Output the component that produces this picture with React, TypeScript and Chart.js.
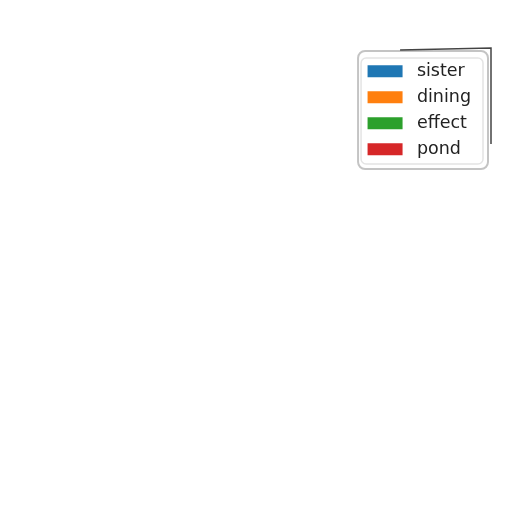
import React, { useEffect, useRef } from 'react';
import Chart from 'chart.js/auto';

// series shown in the legend (the plot itself has no visible marks)
const seriesNames: string[] = ['sister', 'dining', 'effect', 'pond'];
const seriesColors: string[] = ['#1f77b4', '#ff7f0e', '#2ca02c', '#d62728'];
const categories: string[] = [];
const seriesValues: number[][] = [[], [], [], []];

// sketchy frame around the legend, drawn from the legend's own item boxes
const legendFrame = {
  id: 'legendFrame',
  afterDraw(chart: Chart) {
    const lg: any = chart.legend;
    if (!lg || !lg.legendHitBoxes || !lg.legendHitBoxes.length) return;
    const ctx = chart.ctx;
    const last = lg.legendHitBoxes[lg.legendHitBoxes.length - 1];
    const l = lg.left - 1;
    const t = lg.top - 5;
    const r = lg.right + 9;
    const b = last.top + last.height + 11;
    ctx.save();
    ctx.strokeStyle = '#c4c4c4';
    ctx.lineWidth = 2;
    ctx.beginPath();
    ctx.roundRect(l, t + 2, r - l - 2, b - t - 2, 7);
    ctx.stroke();
    ctx.strokeStyle = '#e4e4e4';
    ctx.lineWidth = 1.5;
    ctx.beginPath();
    ctx.roundRect(l + 3, t + 9, r - l - 10, b - t - 14, 5);
    ctx.stroke();
    ctx.strokeStyle = '#444';
    ctx.lineWidth = 1.5;
    ctx.beginPath();
    ctx.moveTo(l + 42, t + 1);
    ctx.lineTo(r + 1, t - 1);
    ctx.lineTo(r + 1, b - 25);
    ctx.stroke();
    ctx.restore();
  },
};

const App: React.FC = () => {
  const chartRef = useRef<HTMLCanvasElement>(null);
  const chartInstance = useRef<Chart | null>(null);

  useEffect(() => {
    if (!chartRef.current) return;
    if (chartInstance.current) chartInstance.current.destroy();
    const ctx = chartRef.current.getContext('2d');
    if (!ctx) return;

    chartInstance.current = new Chart(ctx, {
      type: 'bar',
      data: {
        labels: categories,
        datasets: seriesNames.map((name, i) => ({
          label: name,
          data: seriesValues[i],
          backgroundColor: seriesColors[i],
          borderWidth: 0,
        })),
      },
      options: {
        responsive: true,
        maintainAspectRatio: false,
        animation: false,
        layout: { padding: { top: 54, right: 31 } },
        plugins: {
          title: { display: false },
          tooltip: { enabled: false },
          legend: {
            display: true,
            position: 'right',
            align: 'start',
            labels: {
              boxWidth: 35,
              boxHeight: 12,
              padding: 8.5,
              color: '#222',
              font: { family: "'DejaVu Sans', sans-serif", size: 17.5 },
              generateLabels: (chart: Chart) =>
                Chart.defaults.plugins.legend.labels
                  .generateLabels(chart)
                  .map((item: any) => ({ ...item, text: ' ' + item.text, lineWidth: 0 })),
            },
          },
        },
        scales: {
          x: { display: false },
          y: { display: false },
        },
      },
      plugins: [legendFrame],
    });

    return () => {
      if (chartInstance.current) {
        chartInstance.current.destroy();
        chartInstance.current = null;
      }
    };
  }, []);

  return (
    <div style={{ position: 'fixed', left: 0, top: 0, width: 512, height: 512, background: '#fff' }}>
      <canvas ref={chartRef} />
    </div>
  );
};

export default App;
